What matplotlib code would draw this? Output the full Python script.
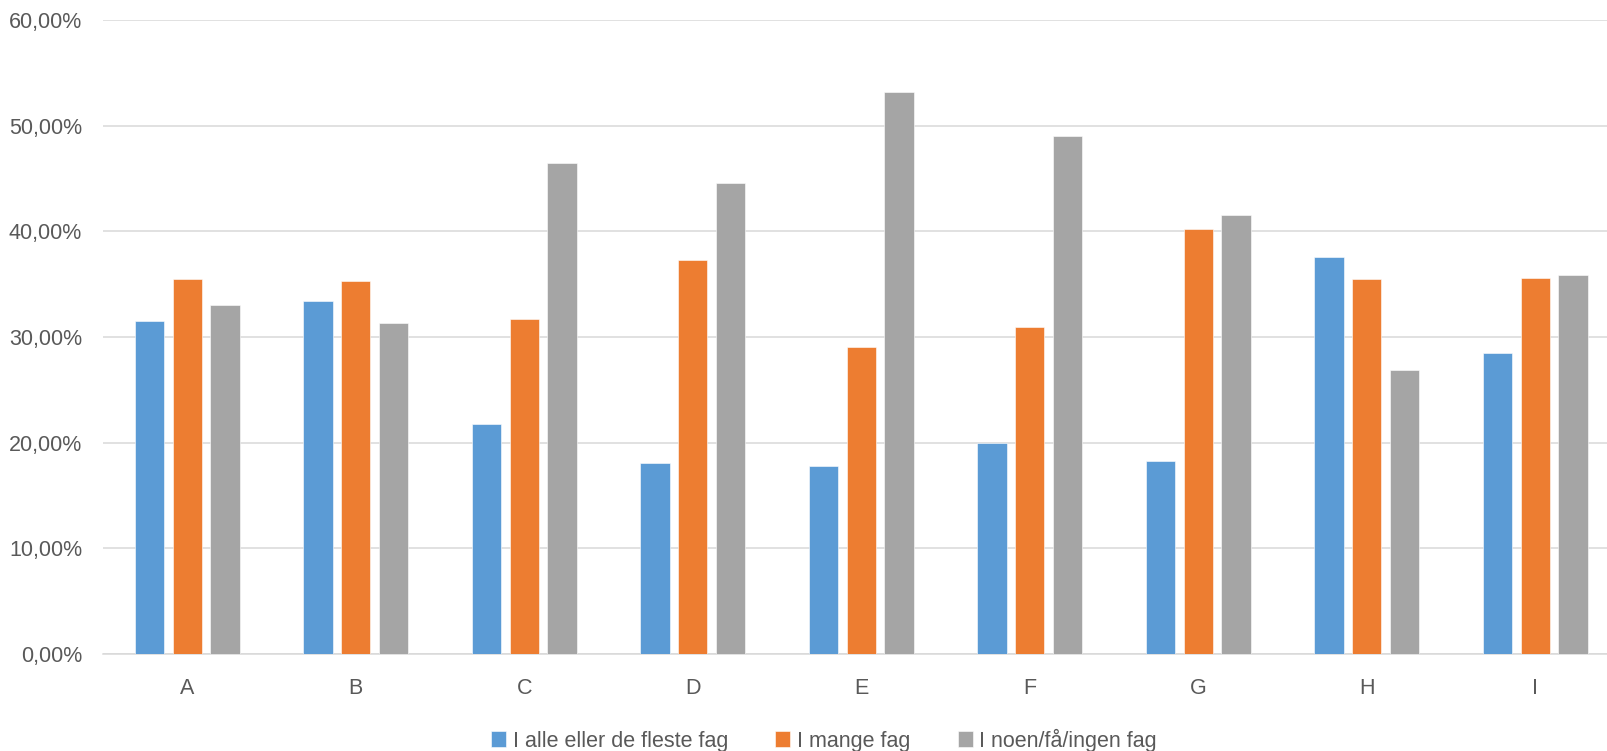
import matplotlib as mpl
mpl.use('Agg')
import matplotlib.pyplot as plt
import numpy as np
from matplotlib.ticker import FuncFormatter, MultipleLocator

# categories and the three series (percent)
categories = ['A', 'B', 'C', 'D', 'E', 'F', 'G', 'H', 'I']
series_names = ['I alle eller de fleste fag', 'I mange fag', 'I noen/få/ingen fag']
alle = [31.47, 33.40, 21.77, 18.05, 17.76, 19.95, 18.24, 37.60, 28.47]
mange = [35.49, 35.33, 31.73, 37.32, 29.06, 30.97, 40.23, 35.49, 35.61]
noen = [32.99, 31.32, 46.51, 44.62, 53.15, 49.00, 41.50, 26.86, 35.90]
colors = ['#5B9BD5', '#ED7D31', '#A5A5A5']

plt.rcParams['font.family'] = ['Liberation Sans', 'DejaVu Sans']
txt = '#595959'
grid = '#D9D9D9'

fig = plt.figure(figsize=(16.08, 7.51), dpi=100)
# plot area runs past the right edge, like the cropped original
ax = fig.add_axes([103/1608, 97/751, 1516.5/1608, 634/751])

x = np.arange(len(categories))
w = 0.175
step = 0.2226
for i, (vals, name) in enumerate(zip([alle, mange, noen], series_names)):
    ax.bar(x + (i - 1)*step, vals, width=w, color=colors[i], label=name,
           edgecolor='white', linewidth=0.4, zorder=3)

ax.set_xlim(-0.5, len(categories) - 0.5)
ax.set_ylim(0, 60)
ax.yaxis.set_major_locator(MultipleLocator(10))
ax.yaxis.set_major_formatter(FuncFormatter(lambda v, p: ('%.2f%%' % v).replace('.', ',')))
ax.set_xticks(x)
ax.set_xticklabels(categories)

ax.grid(axis='y', color=grid, linewidth=1.1, zorder=0)
for s in ['top', 'right', 'left']:
    ax.spines[s].set_visible(False)
ax.spines['bottom'].set_color(grid)
ax.spines['bottom'].set_linewidth(1.1)
ax.tick_params(axis='both', length=0, labelsize=15.5, colors=txt)
ax.tick_params(axis='y', pad=15)
ax.tick_params(axis='x', pad=17)

leg = fig.legend(loc='center', bbox_to_anchor=(824/1608, 1 - 740/751), ncol=3,
                 frameon=False, fontsize=15.5, handlelength=0.7, handleheight=0.7,
                 handletextpad=0.3, columnspacing=2.2, borderaxespad=0)
for t in leg.get_texts():
    t.set_color(txt)

plt.savefig('out.png', dpi=100)
